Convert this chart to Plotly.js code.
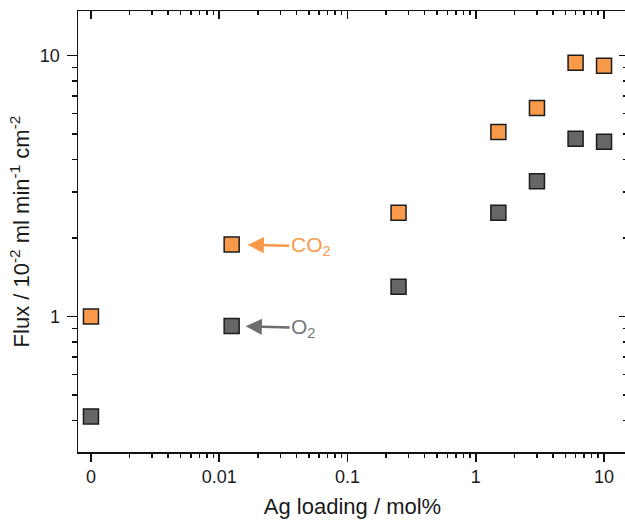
<!DOCTYPE html>
<html>
<head>
<meta charset="utf-8">
<script src="https://cdn.plot.ly/plotly-3.0.1.min.js"></script>
<style>
  html, body { margin: 0; padding: 0; overflow: hidden; background: #fff; }
  #chart { width: 630px; height: 521px; }
</style>
</head>
<body>
<div id="chart"></div>
<script>
// Ag loading (mol%); the unloaded sample (0) sits at the axis position labelled "0"
const agLoading = [0, 0.0125, 0.25, 1.5, 3, 6, 10];
const zeroPosition = 0.001;
const fluxCO2 = [1.0, 1.89, 2.5, 5.1, 6.3, 9.4, 9.15];
const fluxO2 = [0.414, 0.92, 1.3, 2.5, 3.3, 4.8, 4.68];

const xTickVals = [0.001, 0.01, 0.1, 1, 10];
const xTickText = ['0', '0.01', '0.1', '1', '10'];
const yTickVals = [1, 10];
const yTickText = ['1', '10'];

const xMinor = [];
[0.001, 0.01, 0.1, 1].forEach(d => { for (let k = 2; k <= 9; k++) xMinor.push(+(d * k).toPrecision(3)); });
const yMinor = [];
[0.1, 1].forEach(d => { for (let k = 2; k <= 9; k++) yMinor.push(+(d * k).toPrecision(3)); });

const xPlot = agLoading.map(v => v === 0 ? zeroPosition : v);

const xRange = [-3.101, 1.179];
const yRange = [-0.5196, 1.1715];

const orange = '#F89A4A';
const grey = '#666666';
const edge = '#1c1c1c';
const font = 'Liberation Sans, Arial, sans-serif';

const markerBase = { symbol: 'square', size: 15, line: { color: edge, width: 1.5 } };

const traces = [
  { x: xPlot, y: fluxCO2, type: 'scatter', mode: 'markers', name: 'CO2',
    marker: Object.assign({}, markerBase, { color: orange }), hoverinfo: 'skip' },
  { x: xPlot, y: fluxO2, type: 'scatter', mode: 'markers', name: 'O2',
    marker: Object.assign({}, markerBase, { color: grey }), hoverinfo: 'skip' },
  // carries the mirrored top/right axes
  { x: [], y: [], type: 'scatter', xaxis: 'x2', yaxis: 'y2', showlegend: false, hoverinfo: 'skip' }
];

const axisCommon = { showgrid: false, zeroline: false, linecolor: '#111', linewidth: 1.5,
  tickcolor: '#111', tickwidth: 1.5, tickfont: { family: font, size: 18, color: '#1a1a1a' } };

const layout = {
  width: 630, height: 521,
  margin: { l: 78, r: 3, t: 11, b: 69 },
  paper_bgcolor: '#fff', plot_bgcolor: '#fff',
  showlegend: false,
  font: { family: font },
  xaxis: Object.assign({}, axisCommon, {
    type: 'log', range: xRange, showline: true,
    tickmode: 'array', tickvals: xTickVals, ticktext: xTickText,
    ticks: 'outside', ticklen: 8,
    minor: { tickmode: 'array', tickvals: xMinor, ticks: 'outside', ticklen: 4, tickcolor: '#111', tickwidth: 1.5 },
    title: { text: 'Ag loading / mol%', font: { family: font, size: 22, color: '#1a1a1a' }, standoff: 12 }
  }),
  yaxis: Object.assign({}, axisCommon, {
    type: 'log', range: yRange, showline: true,
    tickmode: 'array', tickvals: yTickVals, ticktext: yTickText,
    ticks: 'outside', ticklen: 10, ticklabelstandoff: 3,
    minor: { tickmode: 'array', tickvals: yMinor, ticks: 'outside', ticklen: 5, tickcolor: '#111', tickwidth: 1.5 },
    title: { text: 'Flux / 10<sup>-2</sup> ml min<sup>-1</sup> cm<sup>-2</sup>', font: { family: font, size: 22, color: '#1a1a1a' }, standoff: 4 }
  }),
  xaxis2: Object.assign({}, axisCommon, {
    type: 'log', range: xRange, overlaying: 'x', side: 'top', anchor: 'y2', showline: true,
    tickmode: 'array', tickvals: xTickVals, showticklabels: false,
    ticks: 'inside', ticklen: 8,
    minor: { tickmode: 'array', tickvals: xMinor, ticks: 'inside', ticklen: 4, tickcolor: '#111', tickwidth: 1.5 }
  }),
  yaxis2: Object.assign({}, axisCommon, {
    type: 'log', range: yRange, overlaying: 'y', side: 'right', anchor: 'x2', showline: true,
    tickmode: 'array', tickvals: yTickVals, showticklabels: false,
    ticks: 'inside', ticklen: 8,
    minor: { tickmode: 'array', tickvals: yMinor, ticks: 'inside', ticklen: 4, tickcolor: '#111', tickwidth: 1.5 }
  }),
  annotations: [
    { x: Math.log10(xPlot[1]), y: Math.log10(fluxCO2[1]), xref: 'x', yref: 'y',
      text: 'CO<sub>2</sub>', showarrow: true, axref: 'pixel', ayref: 'pixel', ax: 79, ay: 2,
      arrowhead: 2, arrowsize: 1.3, arrowwidth: 2.5, arrowcolor: orange, standoff: 16,
      font: { family: font, size: 21, color: orange } },
    { x: Math.log10(xPlot[1]), y: Math.log10(fluxO2[1]), xref: 'x', yref: 'y',
      text: 'O<sub>2</sub>', showarrow: true, axref: 'pixel', ayref: 'pixel', ax: 72, ay: 2,
      arrowhead: 2, arrowsize: 1.3, arrowwidth: 2.5, arrowcolor: '#6e6e6e', standoff: 14,
      font: { family: font, size: 21, color: '#777777' } }
  ]
};

Plotly.newPlot('chart', traces, layout, { staticPlot: true, displayModeBar: false });
</script>
</body>
</html>
